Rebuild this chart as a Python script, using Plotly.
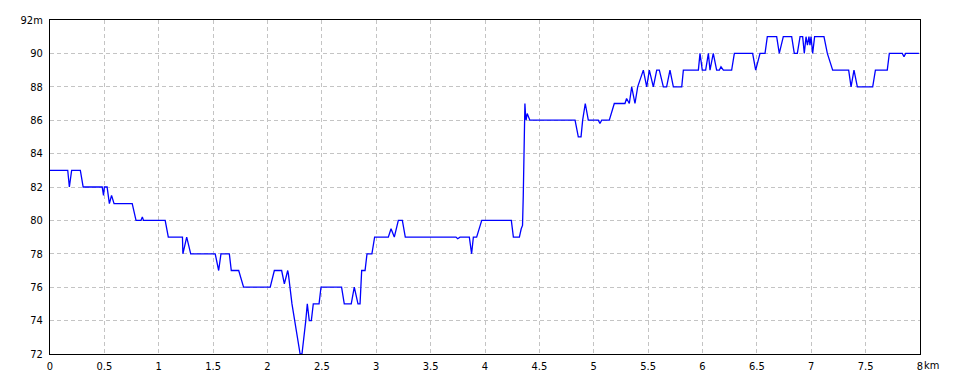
import plotly.graph_objects as go

dist_km = [0, 0.163, 0.178, 0.199, 0.279, 0.305, 0.480, 0.492, 0.500, 0.525, 0.546, 0.566, 0.589,
           0.756, 0.791, 0.836, 0.849, 0.860, 1.059, 1.088, 1.218, 1.222, 1.257, 1.294, 1.519,
           1.551, 1.572, 1.649, 1.667, 1.735, 1.780, 2.025, 2.063, 2.130, 2.155, 2.186, 2.192,
           2.205, 2.225, 2.250, 2.275, 2.300, 2.317, 2.336, 2.352, 2.366, 2.384, 2.403, 2.421,
           2.474, 2.480, 2.492, 2.681, 2.706, 2.770, 2.798, 2.832, 2.851, 2.866, 2.897, 2.915,
           2.960, 2.985, 3.111, 3.136, 3.166, 3.203, 3.240, 3.267, 3.733, 3.749, 3.770, 3.856,
           3.877, 3.893, 3.923, 3.970, 4.242, 4.261, 4.316, 4.333, 4.345, 4.352, 4.360, 4.367,
           4.372, 4.378, 4.388, 4.400, 4.412, 4.828, 4.858, 4.883, 4.898, 4.922, 4.935, 4.950,
           5.042, 5.057, 5.073, 5.143, 5.189, 5.287, 5.302, 5.327, 5.349, 5.379, 5.404, 5.456,
           5.487, 5.511, 5.548, 5.579, 5.603, 5.640, 5.670, 5.701, 5.732, 5.809, 5.824, 5.962,
           5.977, 5.998, 6.029, 6.054, 6.069, 6.099, 6.130, 6.155, 6.170, 6.192, 6.268, 6.293,
           6.461, 6.489, 6.529, 6.575, 6.596, 6.682, 6.706, 6.743, 6.820, 6.844, 6.872, 6.897,
           6.921, 6.936, 6.952, 6.965, 6.979, 6.988, 6.998, 7.013, 7.031, 7.117, 7.148, 7.197,
           7.344, 7.366, 7.393, 7.424, 7.565, 7.590, 7.699, 7.718, 7.837, 7.853, 7.868, 7.990]

elev_m = [83, 83, 82, 83, 83, 82, 82, 81.5, 82, 82, 81, 81.5, 81,
          81, 80, 80, 80.2, 80, 80, 79, 79, 78, 79, 78, 78,
          77, 78, 78, 77, 77, 76, 76, 77, 77, 76.2, 77, 76.8,
          76, 75, 74, 73, 72, 72, 73, 74, 75, 74, 74, 75,
          75, 75.3, 76, 76, 75, 75, 76, 75, 75, 77, 77, 78,
          78, 79, 79, 79.5, 79, 80, 80, 79, 79, 78.9, 79, 79,
          78, 79, 79, 80, 80, 79, 79, 79.5, 79.7, 81.5, 85.2, 87,
          86.4, 86, 86.4, 86.2, 86, 86, 85, 85, 86, 87, 86.5, 86,
          86, 85.8, 86, 86, 87, 87, 87.3, 87, 88, 87, 88, 89,
          88, 89, 88, 89, 89, 88, 88, 89, 88, 88, 89, 89,
          90, 89, 89, 90, 89, 90, 89, 89, 89.2, 89, 89, 90,
          90, 89, 90, 90, 91, 91, 90, 91, 91, 90, 90, 91,
          91, 90, 91, 90.5, 91, 90.5, 91, 90, 91, 91, 90, 89,
          89, 88, 89, 88, 88, 89, 89, 90, 90, 89.8, 90, 90]

x_tickvals = [0, 0.5, 1, 1.5, 2, 2.5, 3, 3.5, 4, 4.5, 5, 5.5, 6, 6.5, 7, 7.5, 8]
x_ticktext = ["0", "0.5", "1", "1.5", "2", "2.5", "3", "3.5", "4", "4.5", "5", "5.5",
              "6", "6.5", "7", "7.5", "8"]
y_tickvals = [72, 74, 76, 78, 80, 82, 84, 86, 88, 90, 92]
y_ticktext = ["72", "74", "76", "78", "80", "82", "84", "86", "88", "90", "92m"]

FONT = "DejaVu Sans Condensed, Liberation Sans, sans-serif"

fig = go.Figure()
fig.add_trace(go.Scatter(x=dist_km, y=elev_m, mode="lines",
                         line=dict(color="#0000ff", width=1.3), hoverinfo="skip"))

axis_common = dict(showline=True, linecolor="black", linewidth=1, mirror=True,
                   showgrid=True, gridcolor="#c4c4c4", gridwidth=1, griddash="4px,3px",
                   zeroline=False, ticks="", tickfont=dict(family=FONT, size=11, color="black"))

fig.update_xaxes(range=[0, 8], tickmode="array", tickvals=x_tickvals, ticktext=x_ticktext,
                 ticklabelstandoff=2, **axis_common)
fig.update_yaxes(range=[72, 92], tickmode="array", tickvals=y_tickvals, ticktext=y_ticktext,
                 ticklabelstandoff=4, **axis_common)

fig.add_annotation(x=8, y=0, xref="x", yref="paper", text="km", showarrow=False,
                   xanchor="left", yanchor="top", xshift=2, yshift=-3,
                   font=dict(family=FONT, size=11, color="black"))

fig.update_layout(width=960, height=384, margin=dict(l=50, r=40, t=20, b=30),
                  paper_bgcolor="white", plot_bgcolor="white", showlegend=False)

fig.write_html("out.html", config={"displayModeBar": False})
